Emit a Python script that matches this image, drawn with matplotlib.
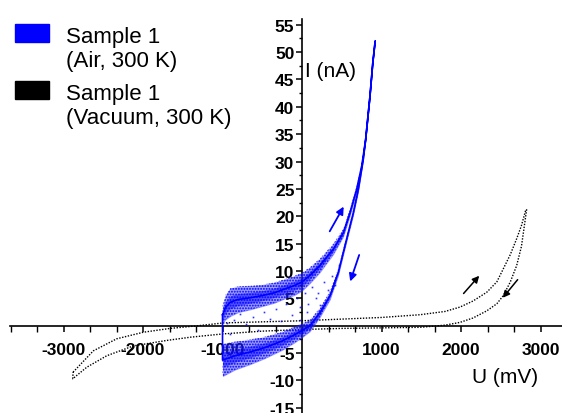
import numpy as np
import matplotlib.pyplot as plt
from matplotlib.ticker import FixedLocator, MultipleLocator
from matplotlib.patches import Rectangle

plt.rcParams['font.family'] = ['Liberation Sans', 'DejaVu Sans']
plt.rcParams['hatch.linewidth'] = 0.9

# Sample 1 in air, forward sweep (upper branch), U in mV, I in nA
air_fwd_u = [-1000, -960, -900, -800, -650, -500, -350, -200, -100, 0, 100, 226, 394, 520, 604, 688, 751, 801, 855, 890, 920]
air_fwd_i = [2.0, 3.4, 4.3, 4.8, 5.1, 5.5, 6.0, 6.8, 7.3, 8.0, 9.2, 11.0, 14.0, 17.0, 20.7, 25.0, 29.2, 34.1, 42.0, 48.0, 52.0]
air_fwd_spread = [1.6, 2.3, 2.6, 2.4, 2.2, 2.0, 1.9, 1.8, 1.8, 1.7, 1.5, 1.3, 1.0, 0.8, 0.7, 0.6, 0.6, 0.5, 0.5, 0.4, 0.3]

# Sample 1 in air, return sweep (lower branch)
air_ret_u = [920, 890, 855, 800, 771, 709, 646, 562, 457, 352, 226, 100, 0, -100, -250, -465, -650, -843, -1000]
air_ret_i = [52.0, 48.0, 42.0, 34.0, 30.5, 25.0, 20.7, 15.9, 9.8, 5.5, 2.4, 0.0, -0.9, -1.7, -2.8, -4.0, -4.8, -5.5, -6.3]
air_ret_spread = [0.3, 0.4, 0.5, 0.5, 0.5, 0.6, 0.6, 0.6, 0.7, 0.8, 0.9, 1.1, 1.3, 1.5, 1.7, 2.0, 2.3, 2.6, 3.0]

# stray points inside the air loop
air_stray_u = [-950, -900, -850, -780, -700, -620, -560, -480, -400, -330, -260, -200, -120, -60, -20, 40, 80, 130, 170, 230, 280, 330, 380, 420, 470, -30, 60, 200]
air_stray_i = [0.5, -1.5, 1.0, 2.2, 0.3, 1.6, -0.8, 2.5, 1.2, 3.0, 0.8, 4.0, 2.0, 5.0, 3.5, 6.0, 4.0, 7.0, 5.0, 3.8, 8.0, 6.5, 9.0, 7.5, 11.0, 1.0, 2.5, 6.0]

# Sample 1 in vacuum, forward sweep (upper branch)
vac_fwd_u = [-2880, -2625, -2331, -1996, -1660, -1300, -990, -500, 0, 500, 1000, 1484, 1800, 1987, 2150, 2323, 2450, 2532, 2620, 2700, 2760, 2815]
vac_fwd_i = [-8.5, -4.6, -2.4, -1.2, -0.5, 0.0, 0.5, 0.7, 0.9, 1.2, 1.5, 2.0, 2.6, 3.4, 4.5, 6.1, 8.0, 10.4, 13.0, 15.9, 18.3, 21.2]

# Sample 1 in vacuum, return sweep (lower branch)
vac_ret_u = [2825, 2760, 2700, 2620, 2532, 2450, 2323, 2150, 1987, 1800, 1652, 1484, 1000, 500, 0, -500, -990, -1400, -1703, -2122, -2457, -2708, -2884]
vac_ret_i = [21.2, 14.5, 11.0, 8.0, 5.5, 4.0, 2.7, 1.4, 0.6, 0.1, -0.1, -0.3, -0.4, -0.5, -0.7, -1.0, -1.5, -2.1, -2.7, -3.7, -5.5, -7.6, -9.7]

x_ticks = [-3000, -2000, -1000, 1000, 2000, 3000]
y_ticks = [-15, -10, -5, 5, 10, 15, 20, 25, 30, 35, 40, 45, 50, 55]
legend_entries = [('Sample 1', '(Air, 300 K)', 'blue'), ('Sample 1', '(Vacuum, 300 K)', 'black')]

W, H = 562, 414
fig = plt.figure(figsize=(W / 100, H / 100), dpi=100)
ax = fig.add_axes([0, 0, 1, 1])
ax.set_xlim(-3799, 3270)
ax.set_ylim(-15.96, 59.7)

# vacuum loop (thin dotted)
vu = vac_fwd_u + vac_ret_u + vac_fwd_u[:1]
vi = vac_fwd_i + vac_ret_i + vac_fwd_i[:1]
ax.plot(vu, vi, color='black', lw=1.0, ls=(0, (1, 1.1)), zorder=3)

# air loop: noisy band of dots
for u, i, s in [(air_fwd_u, air_fwd_i, air_fwd_spread), (air_ret_u, air_ret_i, air_ret_spread)]:
    u = np.array(u)
    i = np.array(i)
    s = np.array(s)
    ax.fill_between(u, i - s, i + s, color='#3434ff', alpha=0.5, lw=0, zorder=4)
    ax.fill_between(u, i - s, i + s, facecolor='none', edgecolor='blue', hatch='......', lw=0, zorder=4)
    ax.fill_between(u, i - 0.45 * s, i + 0.45 * s, color='blue', alpha=0.45, lw=0, zorder=4)
au = air_fwd_u + air_ret_u + air_fwd_u[:1]
ai = air_fwd_i + air_ret_i + air_fwd_i[:1]
ax.plot(au, ai, color='blue', lw=1.2, zorder=5)
ax.plot(air_stray_u, air_stray_i, ls='none', marker='s', ms=1.2, mew=0, color='blue', alpha=0.8, zorder=5)

# sweep direction arrows
arr_b = dict(arrowstyle='-|>', color='blue', lw=1.3, mutation_scale=11)
ax.annotate('', xy=(541, 22.2), xytext=(331, 16.8), arrowprops=arr_b, zorder=6)
ax.annotate('', xy=(595, 7.6), xytext=(730, 13.4), arrowprops=arr_b, zorder=6)
arr_k = dict(arrowstyle='-|>', color='black', lw=1.1, mutation_scale=10)
ax.annotate('', xy=(2252, 9.5), xytext=(2009, 5.5), arrowprops=arr_k, zorder=6)
ax.annotate('', xy=(2503, 4.7), xytext=(2734, 8.8), arrowprops=arr_k, zorder=6)

# axes crossing at the origin
for side in ['top', 'right']:
    ax.spines[side].set_visible(False)
ax.spines['left'].set_position(('data', 0))
ax.spines['bottom'].set_position(('data', 0))
ax.spines['left'].set_bounds(-16, 56)
ax.spines['bottom'].set_bounds(-3667, 3270)
for side in ['left', 'bottom']:
    ax.spines[side].set_linewidth(1.2)
ax.patch.set_visible(False)

ax.set_xticks(x_ticks)
ax.set_xticklabels([str(t) for t in x_ticks], fontweight='bold', fontsize=12.5)
ax.xaxis.set_minor_locator(MultipleLocator(1000 / 3))
ax.set_yticks(y_ticks)
ax.set_yticklabels([str(t) for t in y_ticks], fontweight='bold', fontsize=12.5)
ax.yaxis.set_minor_locator(FixedLocator(np.arange(-15, 56, 2.5)))
ax.tick_params(axis='x', which='major', length=4, width=1.1, pad=8)
ax.tick_params(axis='x', which='minor', length=4, width=1.0)
ax.tick_params(axis='y', which='major', length=4, width=1.1, pad=1.5)
ax.tick_params(axis='y', which='minor', length=2.5, width=1.0)

ax.text(40, 46.6, 'I (nA)', fontsize=15, va='center', ha='left')
ax.text(2134, -9.3, 'U (mV)', fontsize=15, va='center', ha='left')

# legend drawn by hand, swatch beside the first line of each label
tops = [25, 82]
for (l1, l2, c), top in zip(legend_entries, tops):
    fig.add_artist(Rectangle((15 / W, 1 - (top + 18) / H), 34 / W, 18 / H,
                             transform=fig.transFigure, color=c))
    fig.text(66 / W, 1 - (top + 18) / H, l1, fontsize=16, va='baseline')
    fig.text(66 / W, 1 - (top + 42) / H, l2, fontsize=16, va='baseline')

fig.savefig('out.png', dpi=100)
